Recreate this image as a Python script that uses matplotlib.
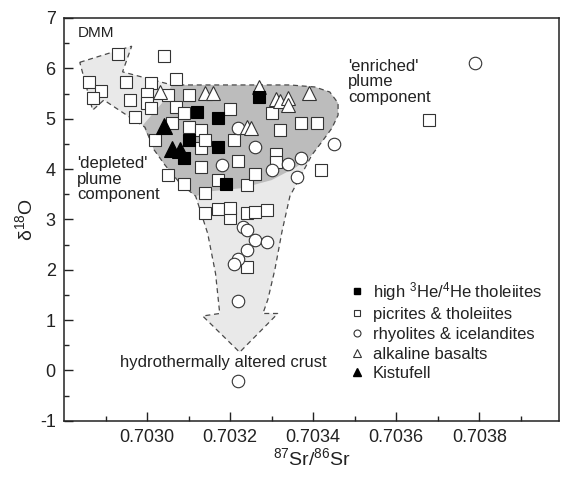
import matplotlib
matplotlib.use("Agg")
import matplotlib.pyplot as plt
from matplotlib.lines import Line2D
from matplotlib.ticker import FormatStrFormatter

plt.rcParams['font.family'] = ['Liberation Sans', 'DejaVu Sans']
plt.rcParams['mathtext.fontset'] = 'custom'
plt.rcParams['mathtext.rm'] = 'Liberation Sans'
plt.rcParams['mathtext.it'] = 'Liberation Sans:italic'
plt.rcParams['axes.unicode_minus'] = False

# ---------------------------------------------------------------
# sample data: 87Sr/86Sr vs d18O
# ---------------------------------------------------------------
picrite_sr = [0.70293, 0.70304, 0.70286, 0.70289, 0.70287, 0.70295, 0.70301,
              0.70307, 0.70296, 0.70300, 0.70300, 0.70305, 0.70310, 0.70297,
              0.70301, 0.70307, 0.70306, 0.70309, 0.70310, 0.70320, 0.70313,
              0.70330, 0.70332, 0.70337, 0.70341, 0.70302, 0.70313, 0.70314,
              0.70321, 0.70313, 0.70322, 0.70331, 0.70331, 0.70342, 0.70305,
              0.70309, 0.70314, 0.70324, 0.70326, 0.70317, 0.70314, 0.70317,
              0.70320, 0.70320, 0.70324, 0.70326, 0.70329, 0.70324, 0.70368]
picrite_o = [6.28, 6.24, 5.73, 5.55, 5.41, 5.73, 5.71,
             5.79, 5.37, 5.49, 5.31, 5.48, 5.47, 5.03,
             5.21, 5.23, 4.91, 5.11, 4.83, 5.19, 4.77,
             5.11, 4.77, 4.91, 4.91, 4.58, 4.42, 4.58,
             4.58, 4.04, 4.16, 4.30, 4.14, 3.98, 3.88,
             3.70, 3.52, 3.68, 3.90, 3.78, 3.13, 3.21,
             3.03, 3.23, 3.13, 3.15, 3.19, 2.05, 4.98]

high_he_sr = [0.70312, 0.70317, 0.70327, 0.70310, 0.70309, 0.70317, 0.70319]
high_he_o = [5.13, 5.01, 5.43, 4.58, 4.22, 4.44, 3.70]

rhyolite_sr = [0.70322, 0.70326, 0.70318, 0.70330, 0.70334, 0.70337, 0.70336,
               0.70345, 0.70379, 0.70323, 0.70324, 0.70326, 0.70329, 0.70324,
               0.70322, 0.70321, 0.70322, 0.70322]
rhyolite_o = [4.82, 4.44, 4.08, 3.98, 4.10, 4.22, 3.84,
              4.50, 6.10, 2.85, 2.79, 2.59, 2.55, 2.39,
              2.21, 2.11, 1.38, -0.21]

alkaline_sr = [0.70303, 0.70314, 0.70316, 0.70327, 0.70331, 0.70332, 0.70334,
               0.70334, 0.70339, 0.70324, 0.70325]
alkaline_o = [5.53, 5.51, 5.51, 5.63, 5.39, 5.35, 5.41,
              5.27, 5.51, 4.83, 4.81]

kistufell_sr = [0.70304, 0.70306, 0.70308]
kistufell_o = [4.86, 4.40, 4.38]

# outline of the mixing field (DMM arrow, plume field, crust arrow)
field_sr = [0.702838, 0.702963, 0.702941, 0.703060, 0.703127, 0.703247,
            0.703344, 0.703404, 0.703440, 0.703460, 0.703460, 0.703445,
            0.703421, 0.703397, 0.703344, 0.703325, 0.703308, 0.703291,
            0.703279, 0.703315, 0.703223, 0.703134, 0.703175, 0.703165,
            0.703146, 0.703117, 0.703079, 0.703043, 0.703017, 0.702995,
            0.702896, 0.702869]
field_o = [6.12, 6.44, 5.93, 5.67, 5.67, 5.67,
           5.67, 5.63, 5.53, 5.31, 5.07, 4.81,
           4.54, 4.28, 3.46, 2.76, 2.01, 1.41,
           1.13, 1.13, 0.36, 1.08, 1.13, 1.92,
           2.72, 3.46, 3.72, 4.08, 4.38, 4.83,
           5.37, 5.17]

# plume end-member field (darker)
plume_sr = [0.702990, 0.703035, 0.703060, 0.703127, 0.703247, 0.703344,
            0.703404, 0.703440, 0.703460, 0.703460, 0.703445, 0.703421,
            0.703397, 0.703360, 0.703300, 0.703228, 0.703156, 0.703117,
            0.703079, 0.703043, 0.703017]
plume_o = [4.87, 5.30, 5.67, 5.67, 5.67, 5.67,
           5.63, 5.53, 5.31, 5.07, 4.81, 4.54,
           4.28, 4.04, 3.78, 3.62, 3.56, 3.46,
           3.72, 4.08, 4.38]

# ---------------------------------------------------------------
# plot
# ---------------------------------------------------------------
fig = plt.figure(figsize=(5.61, 4.82), dpi=100)
ax = fig.add_axes([64 / 561, 1 - 420.7 / 482, (559 - 64) / 561, (420.7 - 18) / 482])

ax.fill(field_sr, field_o, facecolor="#e9e9e9", edgecolor="none", zorder=1)
ax.fill(plume_sr, plume_o, facecolor="#bcbcbc", edgecolor="none", zorder=2)
ax.fill(field_sr, field_o, facecolor="none", edgecolor="#4a4a4a",
        linestyle=(0, (4, 3)), linewidth=0.9, zorder=3)

edge = "#333333"
ax.plot(picrite_sr, picrite_o, "s", ms=8.4, mfc="white", mec=edge, mew=0.8,
        linestyle="none", zorder=4)
ax.plot(rhyolite_sr, rhyolite_o, "o", ms=9, mfc="white", mec=edge, mew=0.8,
        linestyle="none", zorder=5)
ax.plot(alkaline_sr, alkaline_o, "^", ms=9.5, mfc="white", mec=edge, mew=0.8,
        linestyle="none", zorder=6)
ax.plot(high_he_sr, high_he_o, "s", ms=9, mfc="black", mec="black", mew=0.8,
        linestyle="none", zorder=7)
ax.plot(kistufell_sr, kistufell_o, "^", ms=11, mfc="black", mec="black", mew=0.8,
        linestyle="none", zorder=8)

# labels on the diagram
txt = "#222222"
ax.text(0.702833, 6.70, "DMM", fontsize=11, color=txt, va="center", ha="left")
ax.text(0.702831, 3.80, "'depleted'\nplume\ncomponent", fontsize=12, color=txt,
        va="center", ha="left", linespacing=1.05)
ax.text(0.703484, 5.73, "'enriched'\nplume\ncomponent", fontsize=12, color=txt,
        va="center", ha="left", linespacing=1.05)
ax.text(0.703433, 0.07, "hydrothermally altered crust", fontsize=12, color=txt,
        va="baseline", ha="right")

# legend
handles = [
    Line2D([], [], marker="s", ms=5, mfc="black", mec="black", ls="none"),
    Line2D([], [], marker="s", ms=5, mfc="white", mec=edge, mew=0.8, ls="none"),
    Line2D([], [], marker="o", ms=5, mfc="white", mec=edge, mew=0.8, ls="none"),
    Line2D([], [], marker="^", ms=6, mfc="white", mec=edge, mew=0.8, ls="none"),
    Line2D([], [], marker="^", ms=6, mfc="black", mec="black", ls="none"),
]
labels = [r"high $\mathregular{^3}$He/$\mathregular{^4}$He tholeiites",
          "picrites & tholeiites",
          "rhyolites & icelandites",
          "alkaline basalts",
          "Kistufell"]
leg = ax.legend(handles, labels, loc="upper left", bbox_to_anchor=(0.575, 0.350),
                frameon=False, fontsize=12, handlelength=1.0, handletextpad=0.45,
                labelspacing=0.28, borderpad=0, borderaxespad=0)
for t in leg.get_texts():
    t.set_color(txt)

# axes
ax.set_xlim(0.7028, 0.703992)
ax.set_ylim(-1, 7)
ax.set_xticks([0.7030, 0.7032, 0.7034, 0.7036, 0.7038])
ax.set_xticks([0.7029, 0.7031, 0.7033, 0.7035, 0.7037, 0.7039], minor=True)
ax.set_yticks(range(-1, 8))
ax.set_yticks([-0.5 + i for i in range(8)], minor=True)
ax.xaxis.set_major_formatter(FormatStrFormatter("%.4f"))

ax.tick_params(which="both", direction="in", top=False, right=False,
               labelsize=13, labelcolor=txt, width=1.0, color="#222222")
ax.tick_params(which="major", length=6.5)
ax.tick_params(which="minor", length=3.5)
ax.tick_params(axis="x", pad=6)
ax.tick_params(axis="y", pad=6)
for s in ax.spines.values():
    s.set_linewidth(1.1)
    s.set_color("#222222")

ax.set_xlabel(r"$\mathregular{^{87}}$Sr/$\mathregular{^{86}}$Sr", fontsize=14,
              color=txt, labelpad=1)
ax.set_ylabel(r"$\mathregular{\delta^{18}}$O", fontsize=14, color=txt, labelpad=3)

plt.savefig("out.png", dpi=100)
